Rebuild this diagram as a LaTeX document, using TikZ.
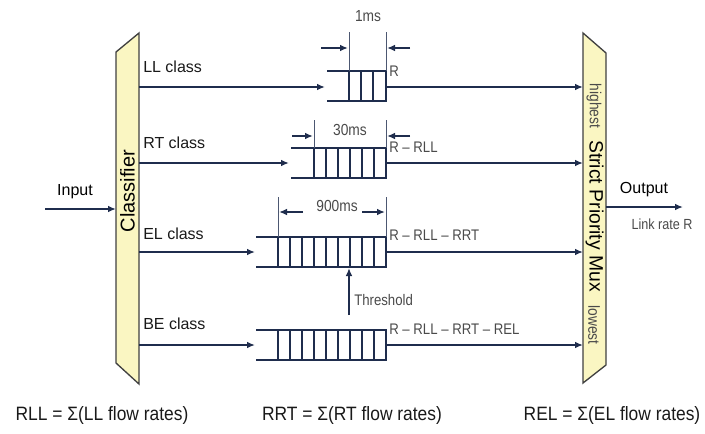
\documentclass[tikz,border=0pt]{standalone}
\usepackage{fontspec}
\setmainfont{Liberation Sans}
\newfontfamily\narrowfont{Liberation Sans}[FakeStretch=0.86]
\newfontfamily\sumfont{Liberation Sans}[FakeStretch=0.9]
\usetikzlibrary{arrows.meta}
\definecolor{navy}{HTML}{1F2D4D}
\definecolor{paleyellow}{HTML}{FAF6C2}
\definecolor{labelgray}{HTML}{4A4A4A}
\tikzset{
  flow/.style={draw=navy, line width=1.6pt, -{Latex[length=6pt,width=5pt]}},
  qline/.style={draw=navy, line width=1.6pt},
  extline/.style={draw=navy!80, line width=0.6pt},
  dimarrow/.style={draw=navy, line width=1.4pt, -{Latex[length=6pt,width=5pt]}},
  unit/.style={draw=black!75, line width=1pt, fill=paleyellow},
  classlbl/.style={anchor=west, font=\fontsize{12}{14}\selectfont, text=black!90, inner sep=0pt},
  ratelbl/.style={anchor=west, font=\narrowfont\fontsize{11.5}{13}\selectfont, text=labelgray, inner sep=0pt},
  dimlbl/.style={font=\narrowfont\fontsize{12}{14}\selectfont, text=labelgray, inner sep=0pt},
  sumlbl/.style={font=\sumfont\fontsize{14.5}{17}\selectfont, text=black!90, inner sep=0pt}
}
\begin{document}
\begin{tikzpicture}[x=0.75pt,y=-0.75pt]
\useasboundingbox (0,0) rectangle (705,433);

% Classifier and multiplexer
\draw[unit] (116,52) -- (139,33) -- (139,384) -- (116,363) -- cycle;
\draw[unit] (583,33) -- (606,53) -- (606,365) -- (583,383) -- cycle;
\node[rotate=90, font=\fontsize{15}{17}\selectfont] (cls) at (127.5,191) {Classifier};
\node[rotate=-90, font=\fontsize{14.5}{17}\selectfont] (mux) at (594.5,216) {Strict Priority Mux};
\node[rotate=-90, font=\narrowfont\fontsize{12}{13}\selectfont, text=labelgray] (hi) at (594,106) {highest};
\node[rotate=-90, font=\narrowfont\fontsize{12}{13}\selectfont, text=labelgray] (lo) at (594,325) {lowest};

% Ports on the two units
\coordinate (in) at (45,209);
\coordinate (clsin) at (116,209);
\coordinate (muxout) at (606,207);
\coordinate (out) at (683,207);
\draw[flow] (in) -- (clsin);
\draw[flow] (muxout) -- (out);
\node[font=\fontsize{12}{14}\selectfont] (inlbl) at (75,192) {Input};
\node[font=\fontsize{12}{14}\selectfont] (outlbl) at (644,190) {Output};
\node[font=\narrowfont\fontsize{11}{13}\selectfont, text=labelgray] (link) at (662,224) {Link rate R};

% Class labels
\node[classlbl] (ll) at (143,67) {LL class};
\node[classlbl] (rt) at (143,143) {RT class};
\node[classlbl] (el) at (143,234) {EL class};
\node[classlbl] (be) at (143,324) {BE class};

% LL queue
\draw[qline] (327,71) -- (386,71) -- (386,101) -- (327,101);
\foreach \x in {349,361,373} \draw[qline] (\x,71) -- (\x,101);
\coordinate (llin) at (139,87);  \coordinate (llq) at (325,87);
\coordinate (llout) at (386,87); \coordinate (llmux) at (583,87);
\draw[flow] (llin) -- (llq);
\draw[flow] (llout) -- (llmux);

% RT queue
\draw[qline] (291,148) -- (386,148) -- (386,178) -- (291,178);
\foreach \x in {314,326,338,350,362,374} \draw[qline] (\x,148) -- (\x,178);
\coordinate (rtin) at (139,163);  \coordinate (rtq) at (289,163);
\coordinate (rtout) at (386,163); \coordinate (rtmux) at (583,163);
\draw[flow] (rtin) -- (rtq);
\draw[flow] (rtout) -- (rtmux);

% EL queue
\draw[qline] (256,237) -- (386,237) -- (386,267) -- (256,267);
\foreach \x in {278,290,302,314,326,338,350,362,374} \draw[qline] (\x,237) -- (\x,267);
\coordinate (elin) at (139,252);  \coordinate (elq) at (255,252);
\coordinate (elout) at (386,252); \coordinate (elmux) at (583,252);
\draw[flow] (elin) -- (elq);
\draw[flow] (elout) -- (elmux);

% BE queue
\draw[qline] (256,330) -- (386,330) -- (386,360) -- (256,360);
\foreach \x in {278,290,302,314,326,338,350,362,374} \draw[qline] (\x,330) -- (\x,360);
\coordinate (bein) at (139,345);  \coordinate (beq) at (255,345);
\coordinate (beout) at (386,345); \coordinate (bemux) at (583,345);
\draw[flow] (bein) -- (beq);
\draw[flow] (beout) -- (bemux);

% Service rates
\node[ratelbl] (rll) at (389,71) {R};
\node[ratelbl] (rrt) at (389,147) {R – RLL};
\node[ratelbl] (rel) at (389,235) {R – RLL – RRT};
\node[ratelbl] (rbe) at (389,329) {R – RLL – RRT – REL};

% Delay bounds
\draw[extline] (349,32) -- (349,71);
\draw[extline] (386,32) -- (386,71);
\coordinate (lld1) at (321,48); \coordinate (lld2) at (348,48);
\coordinate (lld3) at (410,48); \coordinate (lld4) at (387,48);
\draw[dimarrow] (lld1) -- (lld2);
\draw[dimarrow] (lld3) -- (lld4);
\node[dimlbl] (d1) at (368,16) {1ms};

\draw[extline] (314,120) -- (314,148);
\draw[extline] (386,120) -- (386,148);
\coordinate (rtd1) at (292,136); \coordinate (rtd2) at (313,136);
\coordinate (rtd3) at (410,136); \coordinate (rtd4) at (387,136);
\draw[dimarrow] (rtd1) -- (rtd2);
\draw[dimarrow] (rtd3) -- (rtd4);
\node[dimlbl] (d30) at (350,130) {30ms};

\draw[extline] (278,197) -- (278,237);
\draw[extline] (386,197) -- (386,237);
\coordinate (eld1) at (303,212); \coordinate (eld2) at (279,212);
\coordinate (eld3) at (362,212); \coordinate (eld4) at (385,212);
\draw[dimarrow] (eld1) -- (eld2);
\draw[dimarrow] (eld3) -- (eld4);
\node[dimlbl] (d900) at (337,206) {900ms};

% Threshold marker on the EL queue
\coordinate (thr) at (349,315);
\coordinate (thrq) at (349,268);
\draw[dimarrow, line width=1.2pt] (thr) -- (thrq);
\node[ratelbl] (thrlbl) at (354,300) {Threshold};

% Aggregate rate definitions
\node[sumlbl] (sll) at (102,415) {RLL = Σ(LL flow rates)};
\node[sumlbl] (srt) at (352,415) {RRT = Σ(RT flow rates)};
\node[sumlbl] (sel) at (612,415) {REL = Σ(EL flow rates)};
\end{tikzpicture}
\end{document}
